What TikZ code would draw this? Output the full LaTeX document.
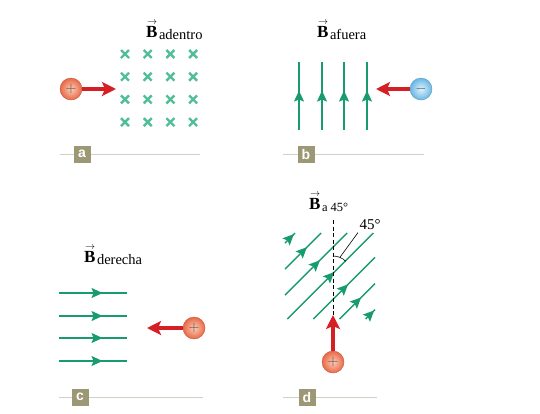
\documentclass[tikz,border=0pt]{standalone}
\usepackage{fontspec}
\setmainfont{Liberation Serif}
\setsansfont{Liberation Sans}
\usetikzlibrary{arrows.meta,decorations.markings,positioning}
\definecolor{fgreen}{RGB}{24,155,112}
\definecolor{xgreen}{RGB}{82,190,150}
\definecolor{vred}{RGB}{212,32,36}
\definecolor{tagolive}{RGB}{156,151,116}
\definecolor{rulegray}{RGB}{208,208,198}
\definecolor{qred}{RGB}{232,104,72}
\definecolor{qredlt}{RGB}{252,205,180}
\definecolor{qblue}{RGB}{105,182,228}
\definecolor{qbluelt}{RGB}{222,242,252}
\newcommand{\Bvec}{\textbf{B}\llap{\raisebox{13pt}{\fontsize{10}{10}\selectfont$\rightarrow$}\kern0.5pt}\kern1.5pt}
\tikzset{
  fline/.style={fgreen, line width=1.4pt},
  midarrow/.style={postaction={decorate},
    decoration={markings, mark=at position #1 with {\arrow{Stealth[length=11pt,width=10pt,inset=2pt]}}}},
  xmark/.style={xgreen, line width=2.4pt},
  vel/.style={vred, line width=4.5pt, -{Stealth[length=14pt,width=14pt,inset=3pt]}},
  charge/.style={circle, minimum size=22pt, inner sep=0pt,
    inner color=#1lt, outer color=#1, draw=#1!85!black, line width=0.4pt,
    text=black!70, font=\fontsize{15}{15}\selectfont},
  tag/.style={fill=tagolive, text=white, minimum width=17pt, minimum height=17pt,
    inner sep=0pt, font=\sffamily\bfseries\fontsize{14}{14}\selectfont},
  rule/.style={rulegray, line width=0.8pt},
  title/.style={anchor=base west, inner sep=0pt, font=\fontsize{17}{20}\selectfont},
}
\begin{document}
\begin{tikzpicture}[x=1pt,y=-1pt]
  \useasboundingbox (0,0) rectangle (540,413);
  % a
  \node[title] (ba) at (146,37) {\Bvec\raisebox{-2.5pt}{\fontsize{14.5}{15}\selectfont adentro}};
  \foreach \i in {0,...,3}
    \foreach \j in {0,...,3}{
      \draw[xmark] (125+22.7*\i-4,54+22.7*\j-4) -- ++(8,8);
      \draw[xmark] (125+22.7*\i-4,54+22.7*\j+4) -- ++(8,-8);
    }
  \node[charge=qred] (qa) at (71,89) {$+$};
  \coordinate (ta) at (116,89);
  \draw[vel] (qa) -- (ta);
  \draw[rule] (60,154) -- (200,154);
  \node[tag] (la) at (82,154) {a};
  % b
  \node[title] (bb) at (317,37) {\Bvec\raisebox{-2.5pt}{\fontsize{14.5}{15}\selectfont afuera}};
  \foreach \x in {299,322,344,367}
    \draw[fline, midarrow=0.58] (\x,130) -- (\x,62);
  \node[charge=qblue] (qb) at (421,89) {$-$};
  \coordinate (tb) at (376,89);
  \draw[vel] (qb) -- (tb);
  \draw[rule] (283,154) -- (424,154);
  \node[tag] (lb) at (306,154) {b};
  % c
  \node[title] (bc) at (84,262) {\Bvec\raisebox{-2.5pt}{\fontsize{14.5}{15}\selectfont derecha}};
  \foreach \y in {293,316,338,361}
    \draw[fline, midarrow=0.64] (59,\y) -- (127,\y);
  \node[charge=qred] (qc) at (194,328) {$+$};
  \coordinate (tc) at (147,328);
  \draw[vel] (qc) -- (tc);
  \draw[rule] (59,397) -- (203,397);
  \node[tag] (lc) at (80,397) {c};
  % d
  \node[title] (bd) at (309,209) {\Bvec\raisebox{-2.5pt}{\fontsize{12.5}{13}\selectfont a 45°}};
  \foreach \k in {0,...,6}{
    \pgfmathsetmacro\c{528+26.1*\k}
    \pgfmathsetmacro\xa{max(285,\c-319)}
    \pgfmathsetmacro\xb{min(375,\c-233)}
    \pgfmathsetmacro\pos{0.5+5.5/((\xb-\xa)*1.4142)}
    \draw[fline, midarrow=\pos] (\xa,\c-\xa) -- (\xb,\c-\xb);
  }
  \draw[line width=0.8pt, dash pattern=on 4pt off 2.5pt] (333,220) -- (333,317);
  \coordinate (dc) at (333,274);
  \draw[line width=0.6pt] ([shift={(-90:18)}]dc) arc[start angle=-90, end angle=-45, radius=18];
  \coordinate (am) at ([shift={(-67.5:18)}]dc);
  \node[font=\fontsize{15}{15}\selectfont] (ang) at (370,225) {45°};
  \draw[line width=0.6pt] (ang.south west) ++(2,-1) -- (am);
  \node[charge=qred] (qd) at (333,362) {$+$};
  \coordinate (td) at (333,315);
  \draw[vel] (qd) -- (td);
  \draw[rule] (283,397) -- (377,397);
  \node[tag] (ld) at (307,397) {d};
\end{tikzpicture}
\end{document}
